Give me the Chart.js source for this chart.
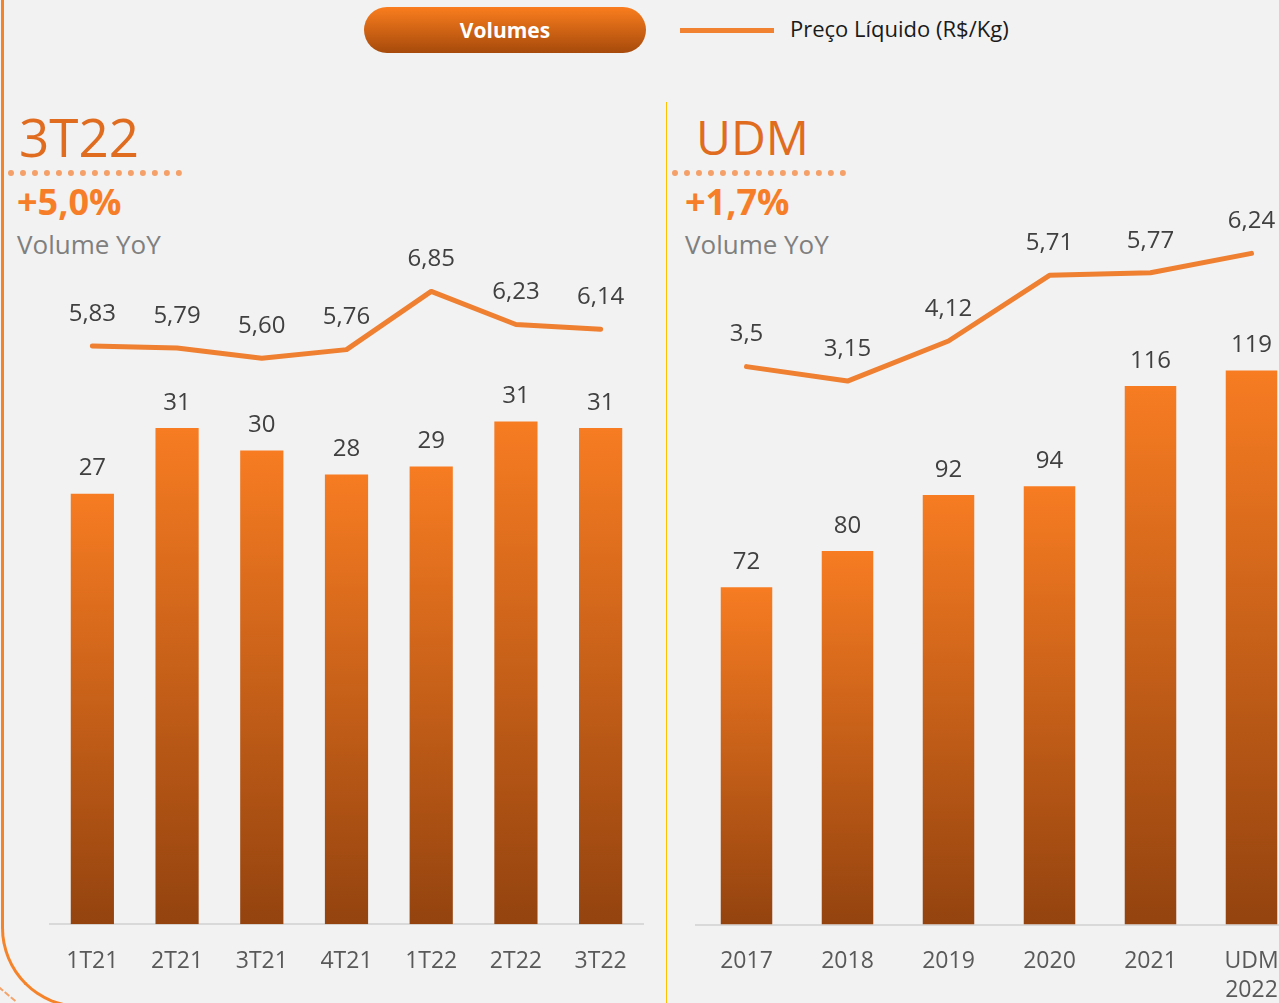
<!DOCTYPE html>
<html lang="pt-BR">
<head>
<meta charset="utf-8">
<title>Volumes e Preço Líquido</title>
<script src="https://cdn.jsdelivr.net/npm/chart.js@4.4.0/dist/chart.umd.min.js"></script>
<style>
  body {
    margin: 0;
    width: 1279px;
    height: 1003px;
    overflow: hidden;
    background: #f2f2f2;
    position: relative;
    font-family: 'Open Sans', sans-serif;
  }
  .moldura {
    position: absolute;
    left: 1px;
    top: -20px;
    width: 900px;
    height: 1025px;
    border-left: 3px solid #f5832a;
    border-bottom: 3px solid #f5832a;
    border-bottom-left-radius: 80px;
  }
  .tracejado {
    position: absolute;
    left: -4px;
    top: 993px;
    width: 22px;
    border-top: 2px dashed #f4a46a;
    transform: rotate(40deg);
  }
  .divisor {
    position: absolute;
    left: 666px;
    top: 102px;
    width: 1px;
    height: 910px;
    background: #ffc000;
  }
  .botao {
    position: absolute;
    left: 364px;
    top: 7px;
    width: 282px;
    height: 46px;
    border-radius: 23px;
    background: linear-gradient(#fa7d1e, #a64a0b);
    color: #fff;
    font-weight: bold;
    font-size: 21px;
    line-height: 46px;
    text-align: center;
  }
  .legenda-linha {
    position: absolute;
    left: 680px;
    top: 28px;
    width: 94px;
    height: 5px;
    background: #f08232;
  }
  .legenda-texto {
    position: absolute;
    left: 790px;
    top: 13px;
    font-size: 22px;
    line-height: 30px;
    color: #1a1a1a;
  }
  .titulo {
    position: absolute;
    color: #e06c1f;
    line-height: 1;
    font-weight: 500;
  }
  .pontilhado {
    position: absolute;
    top: 170px;
    border-top: 6px dotted #f4a068;
  }
  .variacao {
    position: absolute;
    top: 184px;
    font-size: 36px;
    line-height: 36px;
    font-weight: bold;
    color: #f77e29;
  }
  .subtitulo {
    position: absolute;
    top: 231px;
    font-size: 26px;
    line-height: 26px;
    color: #7f7f7f;
  }
  .painel {
    position: absolute;
    top: 200px;
    height: 832px;
  }
</style>
</head>
<body>
<div class="moldura"></div>
<div class="tracejado"></div>
<div class="divisor"></div>

<div class="botao">Volumes</div>
<div class="legenda-linha"></div>
<div class="legenda-texto">Preço Líquido (R$/Kg)</div>

<div class="titulo" style="left:19px; top:110px; font-size:53px;">3T22</div>
<div class="pontilhado" style="left:8px; width:174px;"></div>
<div class="variacao" style="left:17px;">+5,0%</div>
<div class="subtitulo" style="left:17px;">Volume YoY</div>

<div class="titulo" style="left:696px; top:113px; font-size:48px;">UDM</div>
<div class="pontilhado" style="left:672px; width:174px;"></div>
<div class="variacao" style="left:685px;">+1,7%</div>
<div class="subtitulo" style="left:685px;">Volume YoY</div>

<div class="painel" style="left:0; width:660px;"><canvas id="graficoTrimestre"></canvas></div>
<div class="painel" style="left:640px; width:680px;"><canvas id="graficoAno"></canvas></div>

<script>
// Dados do trimestre
const trimestres = ['1T21', '2T21', '3T21', '4T21', '1T22', '2T22', '3T22'];
const volumeTrimestre = [26.9, 31.0, 29.6, 28.1, 28.6, 31.4, 31.0];
const precoTrimestre = [5.83, 5.79, 5.60, 5.76, 6.85, 6.23, 6.14];

// Dados anuais (UDM)
const anos = ['2017', '2018', '2019', '2020', '2021', ['UDM', '2022']];
const volumeAno = [72.4, 80.2, 92.2, 94.1, 115.6, 118.9];
const precoAno = [3.5, 3.15, 4.12, 5.71, 5.77, 6.24];

const fonte = "'Open Sans', sans-serif";

// Gradiente de cada barra (laranja no topo, marrom na base)
function gradienteBarra(context) {
    const chart = context.chart;
    if (!chart.chartArea || context.raw === undefined) return '#f47a22';
    const escala = chart.scales.y;
    const topo = escala.getPixelForValue(context.raw);
    const base = escala.getPixelForValue(0);
    const g = chart.ctx.createLinearGradient(0, topo, 0, base);
    g.addColorStop(0, '#f77c22');
    g.addColorStop(1, '#94430f');
    return g;
}

// Rótulos de dados desenhados acima das barras e dos pontos
const rotulos = {
    id: 'rotulos',
    afterDatasetsDraw(chart, args, opts) {
        const ctx = chart.ctx;
        ctx.save();
        ctx.font = '24px ' + fonte;
        ctx.fillStyle = '#404040';
        ctx.textAlign = 'center';
        ctx.textBaseline = 'middle';
        chart.data.datasets.forEach(function (ds, i) {
            const meta = chart.getDatasetMeta(i);
            meta.data.forEach(function (el, j) {
                const v = ds.data[j];
                let texto;
                if (ds.type === 'line') {
                    texto = (opts.decimaisFixos ? v.toFixed(2) : String(v)).replace('.', ',');
                } else {
                    texto = String(Math.round(v));
                }
                const dy = ds.type === 'line' ? 32 : 25;
                ctx.fillText(texto, el.x, el.y - dy);
            });
        });
        ctx.restore();
    }
};

function criarGrafico(id, labels, volumes, precos, cfg) {
    const ctx = document.getElementById(id).getContext('2d');
    return new Chart(ctx, {
        type: 'bar',
        data: {
            labels: labels,
            datasets: [{
                type: 'line',
                label: 'Preço Líquido (R$/Kg)',
                data: precos,
                yAxisID: 'y1',
                borderColor: '#ef7f31',
                borderWidth: 5,
                borderCapStyle: 'round',
                borderJoinStyle: 'round',
                pointRadius: 0,
                tension: 0,
                clip: false,
                order: 0
            }, {
                type: 'bar',
                label: 'Volumes',
                data: volumes,
                yAxisID: 'y',
                backgroundColor: gradienteBarra,
                barPercentage: 0.51,
                categoryPercentage: 1,
                order: 1
            }]
        },
        options: {
            responsive: true,
            maintainAspectRatio: false,
            animation: false,
            layout: {
                padding: cfg.padding
            },
            plugins: {
                legend: { display: false },
                tooltip: { enabled: false },
                rotulos: { decimaisFixos: cfg.decimaisFixos }
            },
            scales: {
                x: {
                    grid: { display: false, drawTicks: false },
                    border: { display: true, color: '#d9d9d9', width: 2 },
                    ticks: {
                        color: '#595959',
                        font: { family: fonte, size: 23, lineHeight: 1.25 },
                        padding: 23,
                        maxRotation: 0,
                        autoSkip: false
                    }
                },
                y: { display: false, min: 0, max: cfg.maxVolume },
                y1: { display: false, min: cfg.minPreco, max: cfg.maxPreco }
            }
        },
        plugins: [rotulos]
    });
}

criarGrafico('graficoTrimestre', trimestres, volumeTrimestre, precoTrimestre, {
    padding: { left: 50, right: 17, top: 22, bottom: 33 },
    maxVolume: 43.87,
    minPreco: -5,
    maxPreco: 8.15,
    decimaisFixos: true
});

criarGrafico('graficoAno', anos, volumeAno, precoAno, {
    padding: { left: 56, right: 18, top: 22, bottom: 4 },
    maxVolume: 150.8,
    minPreco: -10,
    maxPreco: 7,
    decimaisFixos: false
});
</script>
</body>
</html>
